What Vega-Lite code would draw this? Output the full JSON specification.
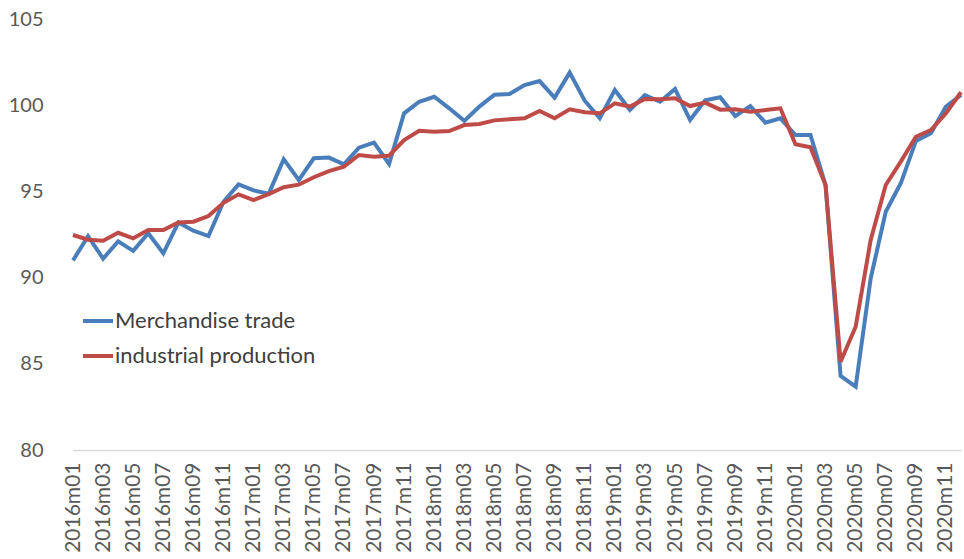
{
  "$schema": "https://vega.github.io/schema/vega-lite/v6.json",
  "width": 898,
  "height": 431,
  "autosize": {"type": "none"},
  "padding": {"left": 66, "top": 19, "right": 0, "bottom": 109},
  "background": "white",
  "config": {"view": {"stroke": null}, "font": "Lato"},
  "data": {"values": [
    {"month":"2016m01","trade":91.0,"ip":92.47},
    {"month":"2016m02","trade":92.4,"ip":92.2},
    {"month":"2016m03","trade":91.1,"ip":92.14},
    {"month":"2016m04","trade":92.1,"ip":92.6},
    {"month":"2016m05","trade":91.55,"ip":92.28},
    {"month":"2016m06","trade":92.57,"ip":92.76},
    {"month":"2016m07","trade":91.41,"ip":92.76},
    {"month":"2016m08","trade":93.19,"ip":93.2},
    {"month":"2016m09","trade":92.72,"ip":93.24},
    {"month":"2016m10","trade":92.41,"ip":93.57},
    {"month":"2016m11","trade":94.4,"ip":94.34},
    {"month":"2016m12","trade":95.41,"ip":94.83},
    {"month":"2017m01","trade":95.06,"ip":94.5},
    {"month":"2017m02","trade":94.86,"ip":94.84},
    {"month":"2017m03","trade":96.87,"ip":95.24},
    {"month":"2017m04","trade":95.66,"ip":95.39},
    {"month":"2017m05","trade":96.92,"ip":95.82},
    {"month":"2017m06","trade":96.96,"ip":96.18},
    {"month":"2017m07","trade":96.57,"ip":96.43},
    {"month":"2017m08","trade":97.54,"ip":97.11},
    {"month":"2017m09","trade":97.83,"ip":97.01},
    {"month":"2017m10","trade":96.59,"ip":97.07},
    {"month":"2017m11","trade":99.53,"ip":97.98},
    {"month":"2017m12","trade":100.2,"ip":98.52},
    {"month":"2018m01","trade":100.49,"ip":98.46},
    {"month":"2018m02","trade":99.82,"ip":98.5},
    {"month":"2018m03","trade":99.09,"ip":98.85},
    {"month":"2018m04","trade":99.92,"ip":98.91},
    {"month":"2018m05","trade":100.61,"ip":99.12},
    {"month":"2018m06","trade":100.65,"ip":99.18},
    {"month":"2018m07","trade":101.17,"ip":99.24},
    {"month":"2018m08","trade":101.4,"ip":99.66},
    {"month":"2018m09","trade":100.44,"ip":99.24},
    {"month":"2018m10","trade":101.89,"ip":99.76},
    {"month":"2018m11","trade":100.26,"ip":99.59},
    {"month":"2018m12","trade":99.24,"ip":99.53},
    {"month":"2019m01","trade":100.88,"ip":100.11},
    {"month":"2019m02","trade":99.72,"ip":99.92},
    {"month":"2019m03","trade":100.59,"ip":100.36},
    {"month":"2019m04","trade":100.2,"ip":100.34},
    {"month":"2019m05","trade":100.94,"ip":100.4},
    {"month":"2019m06","trade":99.14,"ip":99.95},
    {"month":"2019m07","trade":100.28,"ip":100.15},
    {"month":"2019m08","trade":100.46,"ip":99.74},
    {"month":"2019m09","trade":99.37,"ip":99.76},
    {"month":"2019m10","trade":99.95,"ip":99.62},
    {"month":"2019m11","trade":98.99,"ip":99.72},
    {"month":"2019m12","trade":99.24,"ip":99.82},
    {"month":"2020m01","trade":98.27,"ip":97.73},
    {"month":"2020m02","trade":98.27,"ip":97.56},
    {"month":"2020m03","trade":95.37,"ip":95.37},
    {"month":"2020m04","trade":84.3,"ip":85.12},
    {"month":"2020m05","trade":83.67,"ip":87.15},
    {"month":"2020m06","trade":89.96,"ip":92.18},
    {"month":"2020m07","trade":93.82,"ip":95.37},
    {"month":"2020m08","trade":95.47,"ip":96.73},
    {"month":"2020m09","trade":97.92,"ip":98.17},
    {"month":"2020m10","trade":98.37,"ip":98.56},
    {"month":"2020m11","trade":99.92,"ip":99.53},
    {"month":"2020m12","trade":100.59,"ip":100.75}
  ]},
  "transform": [
    {"fold": ["trade", "ip"], "as": ["key", "value"]},
    {"lookup": "key", "from": {"data": {"values": [
      {"key": "trade", "series": "Merchandise trade"},
      {"key": "ip", "series": "industrial production"}
    ]}, "key": "key", "fields": ["series"]}}
  ],
  "mark": {"type": "line", "strokeWidth": 4, "strokeJoin": "miter", "strokeCap": "butt"},
  "encoding": {
    "x": {
      "field": "month", "type": "ordinal", "sort": null,
      "scale": {"type": "point", "range": [7, 895], "padding": 0},
      "axis": {
        "title": null,
        "labelAngle": -90,
        "labelAlign": "right",
        "labelBaseline": "middle",
        "labelFontSize": 21,
        "labelColor": "#595959",
        "labelPadding": 12,
        "ticks": false,
        "domainColor": "#D9D9D9",
        "domainWidth": 1.5,
        "grid": false,
        "values": ["2016m01","2016m03","2016m05","2016m07","2016m09","2016m11","2017m01","2017m03","2017m05","2017m07","2017m09","2017m11","2018m01","2018m03","2018m05","2018m07","2018m09","2018m11","2019m01","2019m03","2019m05","2019m07","2019m09","2019m11","2020m01","2020m03","2020m05","2020m07","2020m09","2020m11"]
      }
    },
    "y": {
      "field": "value", "type": "quantitative",
      "scale": {"domain": [80, 105], "nice": false, "zero": false},
      "axis": {
        "title": null,
        "values": [80, 85, 90, 95, 100, 105],
        "domain": false,
        "ticks": false,
        "grid": false,
        "labelFontSize": 20,
        "labelColor": "#595959",
        "labelPadding": 23
      }
    },
    "color": {
      "field": "series", "type": "nominal",
      "scale": {"domain": ["Merchandise trade", "industrial production"], "range": ["#4A7EBB", "#BE4B48"]},
      "legend": {
        "title": null,
        "orient": "none",
        "legendX": 15,
        "legendY": 285,
        "symbolType": "stroke",
        "symbolSize": 900,
        "symbolStrokeWidth": 4,
        "labelFontSize": 22,
        "labelColor": "#404040",
        "labelOffset": 0,
        "rowPadding": 7,
        "labelLimit": 400
      }
    }
  }
}
